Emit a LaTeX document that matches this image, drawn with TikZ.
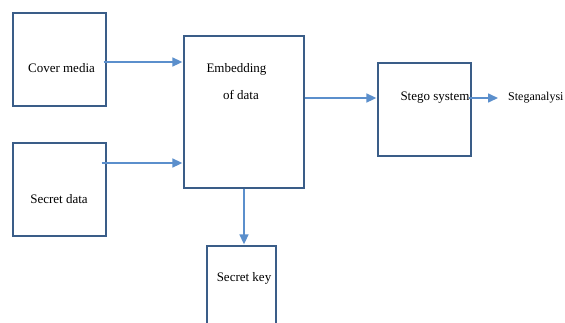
\documentclass[tikz,border=0pt]{standalone}
\usepackage{fontspec}
\setmainfont{Liberation Serif}
\usetikzlibrary{arrows.meta}
\definecolor{boxc}{HTML}{3A5D88}
\definecolor{arrc}{HTML}{5B8FCC}
\begin{document}
\begin{tikzpicture}[x=1pt,y=-1pt,
  box/.style={draw=boxc, line width=1.3pt, inner sep=0pt, fill=white},
  lbl/.style={font=\fontsize{13}{15}\selectfont, inner sep=0pt, text=black},
  arr/.style={draw=arrc, line width=1.6pt, -{Triangle[length=10pt,width=9pt]}}]
\useasboundingbox (0,0) rectangle (565,322);
\clip (0,0) rectangle (565,322);
\node[box, minimum width=93pt, minimum height=93pt] (cover) at (59.5,59.5) {};
\node[box, minimum width=120pt, minimum height=152pt] (emb) at (244,112) {};
\node[box, minimum width=93pt, minimum height=93pt] (sdata) at (59.5,189.5) {};
\node[box, minimum width=93pt, minimum height=93pt] (stego) at (424.5,109.5) {};
\node[box, minimum width=69pt, minimum height=100pt] (skey) at (241.5,296) {};
\node[lbl] (tcover) at (61.5,68) {Cover media};
\node[lbl] (temb1) at (236.5,69) {Embedding};
\node[lbl] (temb2) at (241,95) {of data};
\node[lbl] (tsdata) at (59,199) {Secret data};
\node[lbl] (tskey) at (244,278) {Secret key};
\node[lbl] (tstego) at (435,98) {Stego system};
\node[lbl, font=\fontsize{12}{14}\selectfont, anchor=west] (tsteg) at (508,98) {Steganalysi};
\draw[arr] ([xshift=-3pt,yshift=-2.5pt]cover.east) -- ([xshift=-1pt,yshift=-2.5pt]cover.east -| emb.west);
\draw[arr] ([xshift=-5pt,yshift=26.5pt]sdata.east) -- ([xshift=-1pt,yshift=26.5pt]sdata.east -| emb.west);
\draw[arr] ([yshift=14pt]emb.east) -- ([xshift=-1pt,yshift=14pt]emb.east -| stego.west);
\draw[arr] ([xshift=-3pt,yshift=11.5pt]stego.east) -- ([xshift=-10pt]tsteg.west);
\draw[arr] (emb.south) -- ([yshift=1pt]emb.south |- skey.north);
\end{tikzpicture}
\end{document}
